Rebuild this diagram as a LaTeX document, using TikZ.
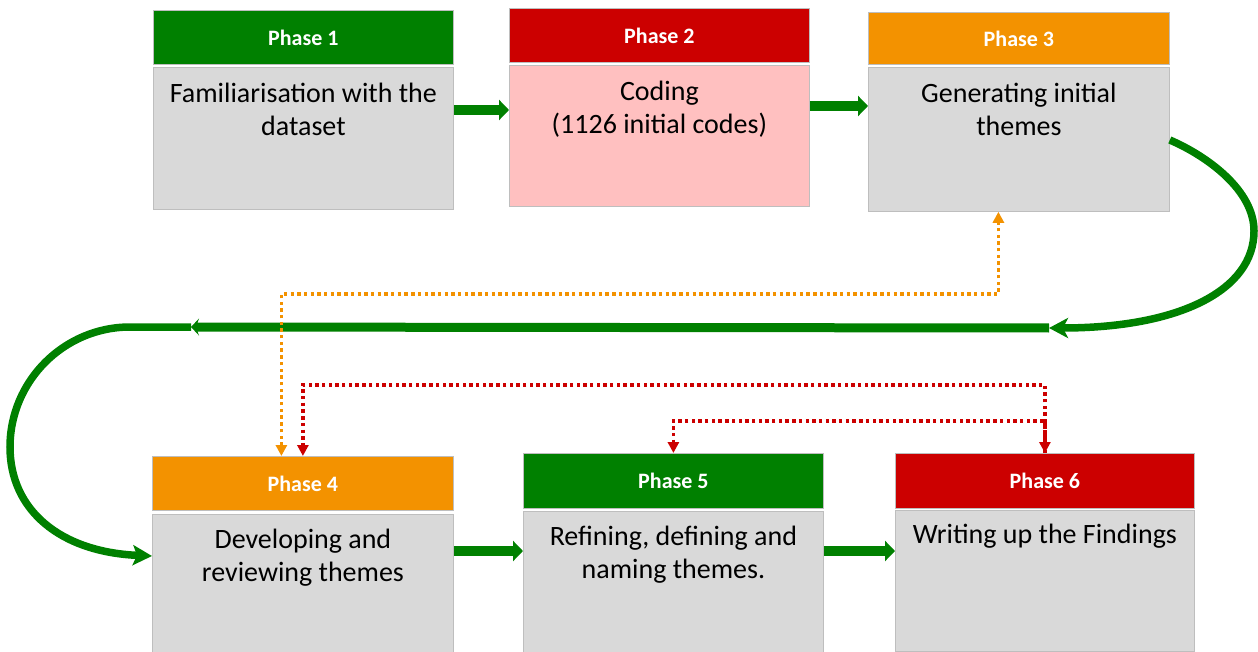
\documentclass[tikz,border=0pt]{standalone}
\usepackage{fontspec}
\setmainfont{Carlito}
\usetikzlibrary{arrows.meta,calc}

\definecolor{phgreen}{RGB}{0,128,0}
\definecolor{phred}{RGB}{204,0,0}
\definecolor{phorange}{RGB}{243,146,0}
\definecolor{phpink}{RGB}{255,192,192}
\definecolor{phgray}{RGB}{217,217,217}
\definecolor{phedge}{RGB}{190,190,190}

\tikzset{
  hdr/.style={draw=phedge, line width=0.8pt, minimum width=300pt, inner sep=0pt,
    anchor=north west, text=white, font=\bfseries\fontsize{22}{26}\selectfont},
  bdy/.style={draw=phedge, line width=0.8pt, fill=phgray, minimum width=300pt,
    inner sep=0pt, anchor=north west},
  txt/.style={font=\fontsize{28}{33}\selectfont, align=center, inner sep=0pt, anchor=north},
  flow/.style={draw=phgreen, line width=10pt, -{Triangle[length=10pt,width=20pt]}},
  loopline/.style={draw=phgreen, line width=7.5pt},
  dotline/.style={line width=3.6pt, dash pattern=on 3.4pt off 3.3pt},
  dtip/.tip={Triangle[length=11pt,width=11pt]},
}

\begin{document}
\begin{tikzpicture}[x=1pt,y=-1pt]
\useasboundingbox (0,0) rectangle (1258,652);

% ---- top row ----
\node[hdr, fill=phgreen,  minimum height=54pt] (h1) at (153,10) {Phase 1};
\node[bdy, minimum height=142pt] (b1) at (153,67) {};
\node[txt] (t1) at ([yshift=-13pt]b1.north) {\rule{0pt}{22pt}Familiarisation with the\\dataset};

\node[hdr, fill=phred,    minimum height=54pt] (h2) at (509,8) {Phase 2};
\node[bdy, fill=phpink, minimum height=141pt] (b2) at (509,65) {};
\node[txt] (t2) at ([yshift=-13pt]b2.north) {\rule{0pt}{22pt}Coding\\(1126 initial codes)};

\node[hdr, fill=phorange, minimum height=52pt, minimum width=301pt] (h3) at (868,12) {Phase 3};
\node[bdy, minimum height=144pt, minimum width=301pt] (b3) at (868,67) {};
\node[txt] (t3) at ([yshift=-13pt]b3.north) {\rule{0pt}{22pt}Generating initial\\themes};

% ---- bottom row ----
\node[hdr, fill=phorange, minimum height=54pt, minimum width=301pt] (h4) at (152,456) {Phase 4};
\node[bdy, minimum height=141pt, minimum width=301pt] (b4) at (152,514) {};
\node[txt] (t4) at ([yshift=-12pt]b4.north) {\rule{0pt}{22pt}Developing and\\reviewing themes};

\node[hdr, fill=phgreen,  minimum height=55pt] (h5) at (523,453) {Phase 5};
\node[bdy, minimum height=144pt] (b5) at (523,511) {};
\node[txt] (t5) at ([yshift=-12pt]b5.north) {\rule{0pt}{22pt}Refining, defining and\\naming themes.};

\node[hdr, fill=phred,    minimum height=55pt, minimum width=299pt] (h6) at (895,453) {Phase 6};
\node[bdy, minimum height=141pt, minimum width=299pt] (b6) at (895,510) {};
\node[txt] (t6) at ([yshift=-11pt]b6.north) {\rule{0pt}{22pt}Writing up the Findings};

% ---- straight flow arrows ----
\draw[flow] ([yshift=-43pt]b1.north east) -- ([yshift=-45pt]b2.north west);
\draw[flow] ([yshift=-41pt]b2.north east) -- ([yshift=-39pt]b3.north west);
\draw[flow] ([yshift=-37pt]b4.north east) -- ([yshift=-40pt]b5.north west);
\draw[flow] ([yshift=-40pt]b5.north east) -- ([yshift=-41pt]b6.north west);

% ---- return loop from phase 3 to phase 4 ----
\coordinate (turnR) at (1049,328);
\coordinate (turnL) at (191,327);
\coordinate (startR) at ([yshift=-73pt]b3.north east);
\coordinate (endL) at ([yshift=-42pt]b4.north west);

\draw[loopline, -{Stealth[length=19pt,width=20pt,inset=5pt]}]
  (startR) .. controls (1207,156) and (1254,190) .. (1254,231)
           .. controls (1254,290) and (1180,328) .. (turnR);
\draw[loopline, -{Stealth[length=19pt,width=20pt,inset=4pt]}]
  (turnL) -- (130,327) .. controls (64,327) and (10,381) .. (10,447)
          .. controls (10,510) and (60,552) .. (endL);
\draw[draw=phgreen, line width=9pt, -{Stealth[length=8pt,width=17pt,inset=3pt]}]
  (turnR) -- (turnL);

% ---- feedback connectors ----
\coordinate (orow) at (0,294);
\coordinate (rrowA) at (0,385);
\coordinate (rrowB) at (0,421);
\coordinate (o4) at ([xshift=-21.5pt]h4.north);
\coordinate (o3) at ([xshift=-20.5pt]b3.south);

\draw[dotline, draw=phorange, dtip-dtip]
  (o4) -- (o4 |- orow) -- (o3 |- orow) -- (o3);
\draw[dotline, draw=phred, dtip-dtip]
  (h6.north) -- (h6.north |- rrowA) -- (h4.north |- rrowA) -- (h4.north);
\draw[dotline, draw=phred, -dtip]
  (h6.north) -- (h6.north |- rrowB) -- (h5.north |- rrowB) -- (h5.north);
\end{tikzpicture}
\end{document}
